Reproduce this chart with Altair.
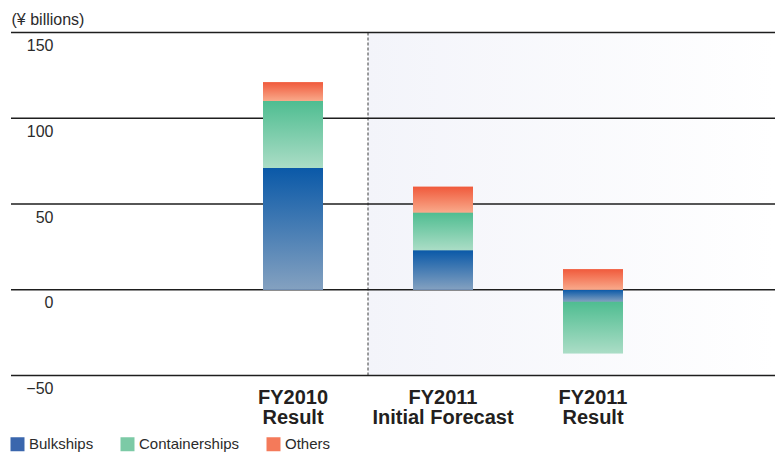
import altair as alt
import pandas as pd

categories = ["FY2010\nResult", "FY2011\nInitial Forecast", "FY2011\nResult"]
series = ["Bulkships", "Containerships", "Others"]
bulkships = [71, 23, -7]
containerships = [39, 22, -30]
others = [11, 15, 12]
y_ticks = [-50, 0, 50, 100, 150]

rows = []
for i, c in enumerate(categories):
    for j, (s, vals) in enumerate(zip(series, [bulkships, containerships, others])):
        rows.append({"cat": c, "series": s, "order": j, "value": vals[i]})
df = pd.DataFrame(rows)

FONT = "Liberation Sans"
TXT = "#2b2b2b"

x_scale = alt.Scale(domain=categories, paddingInner=0, paddingOuter=0, range=[207, 657])
x_axis = alt.Axis(title=None, domain=False, ticks=False, labelAngle=0,
                  labelExpr="split(datum.label, '\\n')", labelFont=FONT,
                  labelFontSize=20, labelFontWeight="bold", labelLineHeight=20,
                  labelColor="#231f20", labelPadding=12, labelLimit=300)
y_scale = alt.Scale(domain=[-50, 150], nice=False, zero=False)
y_axis = alt.Axis(title="(¥ billions)", values=y_ticks, domain=False, ticks=False,
                  grid=False, tickSize=0, labelAlign="right", labelBaseline="middle",
                  labelPadding=-42, labelOffset=13, labelFont=FONT, labelFontSize=16,
                  labelColor=TXT, titleAngle=0, titleAlign="left", titleBaseline="middle",
                  titleX=0, titleY=-13, titleFont=FONT, titleFontSize=16,
                  titleFontWeight="normal", titleColor=TXT)

shade_df = pd.DataFrame({"cat": [categories[1]]})
shade = alt.Chart(shade_df).mark_rect(
    fill=alt.Gradient(gradient="linear",
                      stops=[alt.GradientStop(color="#f3f4fa", offset=0),
                             alt.GradientStop(color="#ffffff", offset=1)],
                      x1=0, x2=1, y1=0, y2=0)
).encode(
    x=alt.X("cat:N", bandPosition=0, scale=x_scale, axis=x_axis),
    x2=alt.value("width"),
    y=alt.value(0),
    y2=alt.value("height"),
)

divider = alt.Chart(shade_df).mark_rule(color="#3a3a3a", strokeDash=[3, 2], strokeWidth=1).encode(
    x=alt.X("cat:N", bandPosition=0, scale=x_scale, axis=x_axis),
)

grid_df = pd.DataFrame({"tick": y_ticks})
grid = alt.Chart(grid_df).mark_rule(color="#1e1e1e", strokeWidth=1.4).encode(
    y=alt.Y("tick:Q", scale=y_scale, axis=y_axis),
)

stacked = alt.Chart(df).transform_stack(
    stack="value", groupby=["cat"], as_=["v0", "v1"],
    sort=[alt.SortField("order", order="ascending")]
)

base_bars = stacked.mark_bar(width=60).encode(
    x=alt.X("cat:N", scale=x_scale, axis=x_axis),
    y=alt.Y("v0:Q", scale=y_scale, axis=y_axis),
    y2="v1:Q",
    color=alt.Color("series:N",
                    scale=alt.Scale(domain=series, range=["#3a66ad", "#7ccaa6", "#f47a5a"]),
                    legend=alt.Legend(title=None, orient="none", legendX=-1, legendY=404,
                                      direction="horizontal", symbolType="square",
                                      symbolSize=196, symbolStrokeWidth=0,
                                      labelFont=FONT, labelFontSize=15, labelColor=TXT,
                                      labelOffset=4, columnPadding=26)),
)

grad_stops = {
    "Bulkships": ("#0a59a8", "#84a1c0"),
    "Containerships": ("#4fbd91", "#abddc6"),
    "Others": ("#f05a3c", "#f9aa8b"),
}
overlays = []
for s in series:
    top, bottom = grad_stops[s]
    overlays.append(
        stacked.transform_filter(alt.datum.series == s).mark_bar(
            width=60,
            fill=alt.Gradient(gradient="linear",
                              stops=[alt.GradientStop(color=top, offset=0),
                                     alt.GradientStop(color=bottom, offset=1)],
                              x1=0, x2=0, y1=0, y2=1)
        ).encode(
            x=alt.X("cat:N", scale=x_scale, axis=x_axis),
            y=alt.Y("v0:Q", scale=y_scale, axis=y_axis),
            y2="v1:Q",
        )
    )

chart = alt.layer(shade, divider, grid, base_bars, *overlays).properties(
    width=764, height=343,
    autosize=alt.AutoSizeParams(type="none"),
    padding={"left": 11, "top": 32.5, "right": 4, "bottom": 78.5},
    background="white",
).configure_view(stroke=None)

chart.save("out.html", embed_options={"renderer": "svg", "actions": False})
